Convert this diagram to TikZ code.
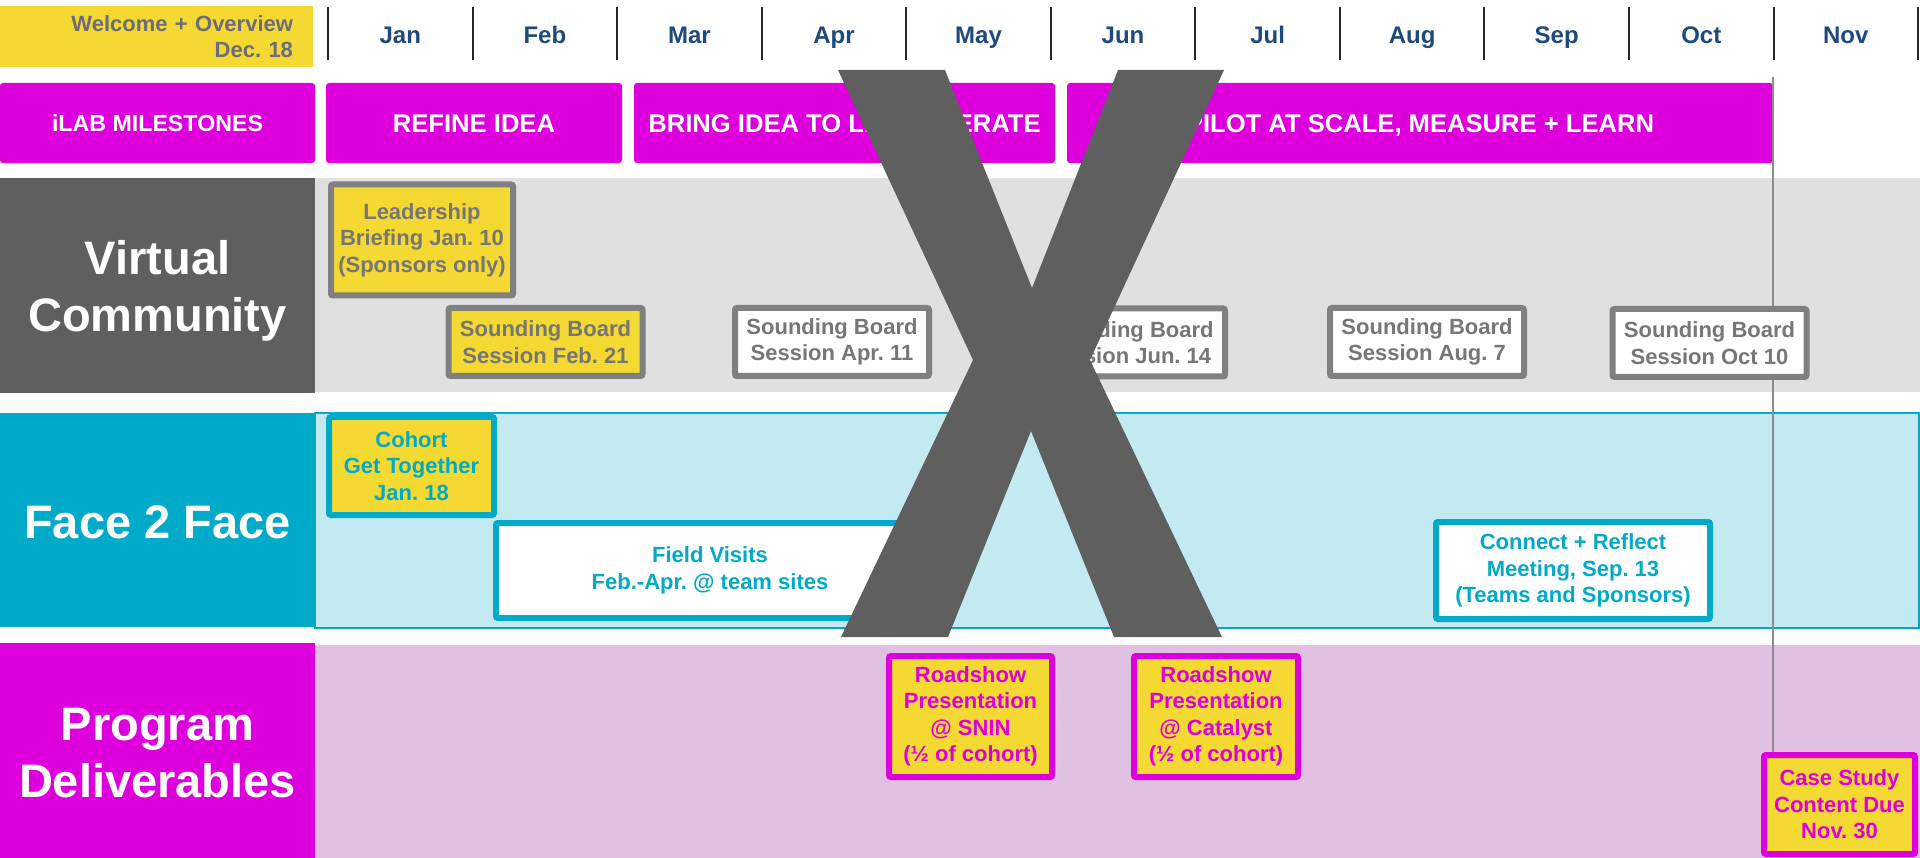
\documentclass[tikz,border=0pt]{standalone}
\usepackage{fontspec}
\setmainfont{Liberation Sans}
\usetikzlibrary{positioning}
\frenchspacing

\definecolor{ilabyellow}{RGB}{244,217,50}
\definecolor{ilabmagenta}{RGB}{221,0,221}
\definecolor{darkgrey}{RGB}{95,95,95}
\definecolor{bandgrey}{RGB}{224,224,224}
\definecolor{boxgrey}{RGB}{128,128,128}
\definecolor{textgrey}{RGB}{118,118,118}
\definecolor{welcomegrey}{RGB}{108,108,122}
\definecolor{ftfteal}{RGB}{0,170,200}
\definecolor{bandteal}{RGB}{196,234,241}
\definecolor{bandpurple}{RGB}{225,193,225}
\definecolor{monthblue}{RGB}{31,73,125}
\definecolor{sepdark}{RGB}{38,38,38}
\definecolor{guidegrey}{RGB}{140,140,140}

\tikzset{
  header/.style={text=white, align=center, inner sep=0pt, font=\fontsize{47}{57}\selectfont\bfseries},
  month/.style={text=monthblue, anchor=base, inner sep=0pt, font=\fontsize{24}{28}\selectfont\bfseries},
  sepline/.style={draw=sepdark, line width=2pt},
  phase/.style={fill=ilabmagenta, rounded corners=3pt, text=white, inner sep=0pt, minimum height=80, text height=18.5pt, text depth=0pt, font=\fontsize{25.6}{30}\selectfont\bfseries},
  event/.style={rounded corners=2pt, line width=6pt, align=center, inner sep=0pt, font=\fontsize{22}{26.5}\selectfont\bfseries},
  vcbox/.style={event, draw=boxgrey, text=textgrey, minimum width=194, minimum height=68},
  ftfbox/.style={event, draw=ftfteal, text=ftfteal},
  pdbox/.style={event, draw=ilabmagenta, text=ilabmagenta, fill=ilabyellow},
  novline/.style={draw=guidegrey, line width=1.5pt},
}

\begin{document}
\begin{tikzpicture}[x=1pt, y=-1pt]
    \useasboundingbox (0,0) rectangle (1920,858);
    % months
    \node[fill=ilabyellow, minimum width=313, minimum height=61, text width=273, inner xsep=20pt, inner ysep=0pt, align=right, text=welcomegrey, font=\fontsize{22}{26}\selectfont\bfseries] (welcome) at (156.5,36.5) {Welcome + Overview\\Dec. 18};
    \foreach \i in {0,...,11}
        \draw[sepline] ({328+144.55*\i},7) -- ({328+144.55*\i},60);
    \foreach \m [count=\i from 0] in {Jan,Feb,Mar,Apr,May,Jun,Jul,Aug,Sep,Oct,Nov}
        \node[month] (month\i) at ({400.3+144.55*\i},44) {\m};
    % milestones
    \node[phase, minimum width=315, text height=16.5pt, font=\fontsize{23.2}{28}\selectfont\bfseries] (ilab) at (157.5,123) {iLAB MILESTONES};
    \node[phase, minimum width=296] (refine) at (474,123) {REFINE IDEA};
    \node[phase, minimum width=421] (bring) at (844.5,123) {BRING IDEA TO LIFE + ITERATE};
    \node[phase, minimum width=706] (pilot) at (1420,123) {PILOT AT SCALE, MEASURE + LEARN};
    % bands
    \fill[bandgrey] (315,178) rectangle (1920,392);
    \fill[bandteal] (315,413) rectangle (1919,628);
    \draw[ftfteal, line width=2pt] (315,413) rectangle (1919,628);
    \fill[bandpurple] (315,645) rectangle (1920,858);
    \fill[darkgrey] (0,178) rectangle (315,393);
    \fill[ftfteal] (0,413) rectangle (315,627);
    \fill[ilabmagenta] (0,643) rectangle (315,858);
    \node[header] (virtual) at (157.5,291) {Virtual\\Community};
    \node[header] (face) at (157.5,522) {Face 2 Face};
    \node[header] (program) at (157.5,753) {Program\\Deliverables};
    % november line
    \coordinate (novtop) at (1773,77);
    \coordinate (novbottom) at (1773,752);
    \draw[novline] (novtop) -- (novbottom);
    % virtual community
    \node[vcbox, fill=ilabyellow, minimum width=182, minimum height=111] (leadership) at (422,240) {Leadership\\Briefing Jan. 10\\(Sponsors only)};
    \node[vcbox, fill=ilabyellow] (sbfeb) at (545.5,342) {Sounding Board\\Session Feb. 21};
    \node[vcbox, fill=white] (sbapr) at (832,342) {Sounding Board\\Session Apr. 11};
    \node[vcbox, fill=white] (sbjun) at (1128,342.5) {Sounding Board\\Session Jun. 14};
    \node[vcbox, fill=white] (sbaug) at (1427,342) {Sounding Board\\Session Aug. 7};
    \node[vcbox, fill=white] (sboct) at (1709.5,343) {Sounding Board\\Session Oct 10};
    % face 2 face
    \node[ftfbox, fill=ilabyellow, minimum width=165, minimum height=98] (cohort) at (411.5,466) {Cohort\\Get Together\\Jan. 18};
    \node[ftfbox, fill=white, minimum width=428, minimum height=95] (field) at (710,570.5) {Field Visits\\Feb.-Apr. @ team sites};
    \node[ftfbox, fill=white, minimum width=274, minimum height=97] (connect) at (1573,570.5) {Connect + Reflect\\Meeting, Sep. 13\\(Teams and Sponsors)};
    % program deliverables
    \node[pdbox, minimum width=163, minimum height=121] (snin) at (970.5,716.5) {Roadshow\\Presentation\\@ SNIN\\(½ of cohort)};
    \node[pdbox, minimum width=164, minimum height=121] (catalyst) at (1216,716.5) {Roadshow\\Presentation\\@ Catalyst\\(½ of cohort)};
    \node[pdbox, minimum width=151, minimum height=99] (casestudy) at (1839.5,804.5) {Case Study\\Content Due\\Nov. 30};
    % the X
    \fill[darkgrey] (838,70) -- (945,70) -- (1032,288) -- (1118,70) -- (1224,70) -- (1090,360) -- (1222,637) -- (1114,637) -- (1031,431) -- (948,637) -- (841,637) -- (973,360) -- cycle;
\end{tikzpicture}
\end{document}
